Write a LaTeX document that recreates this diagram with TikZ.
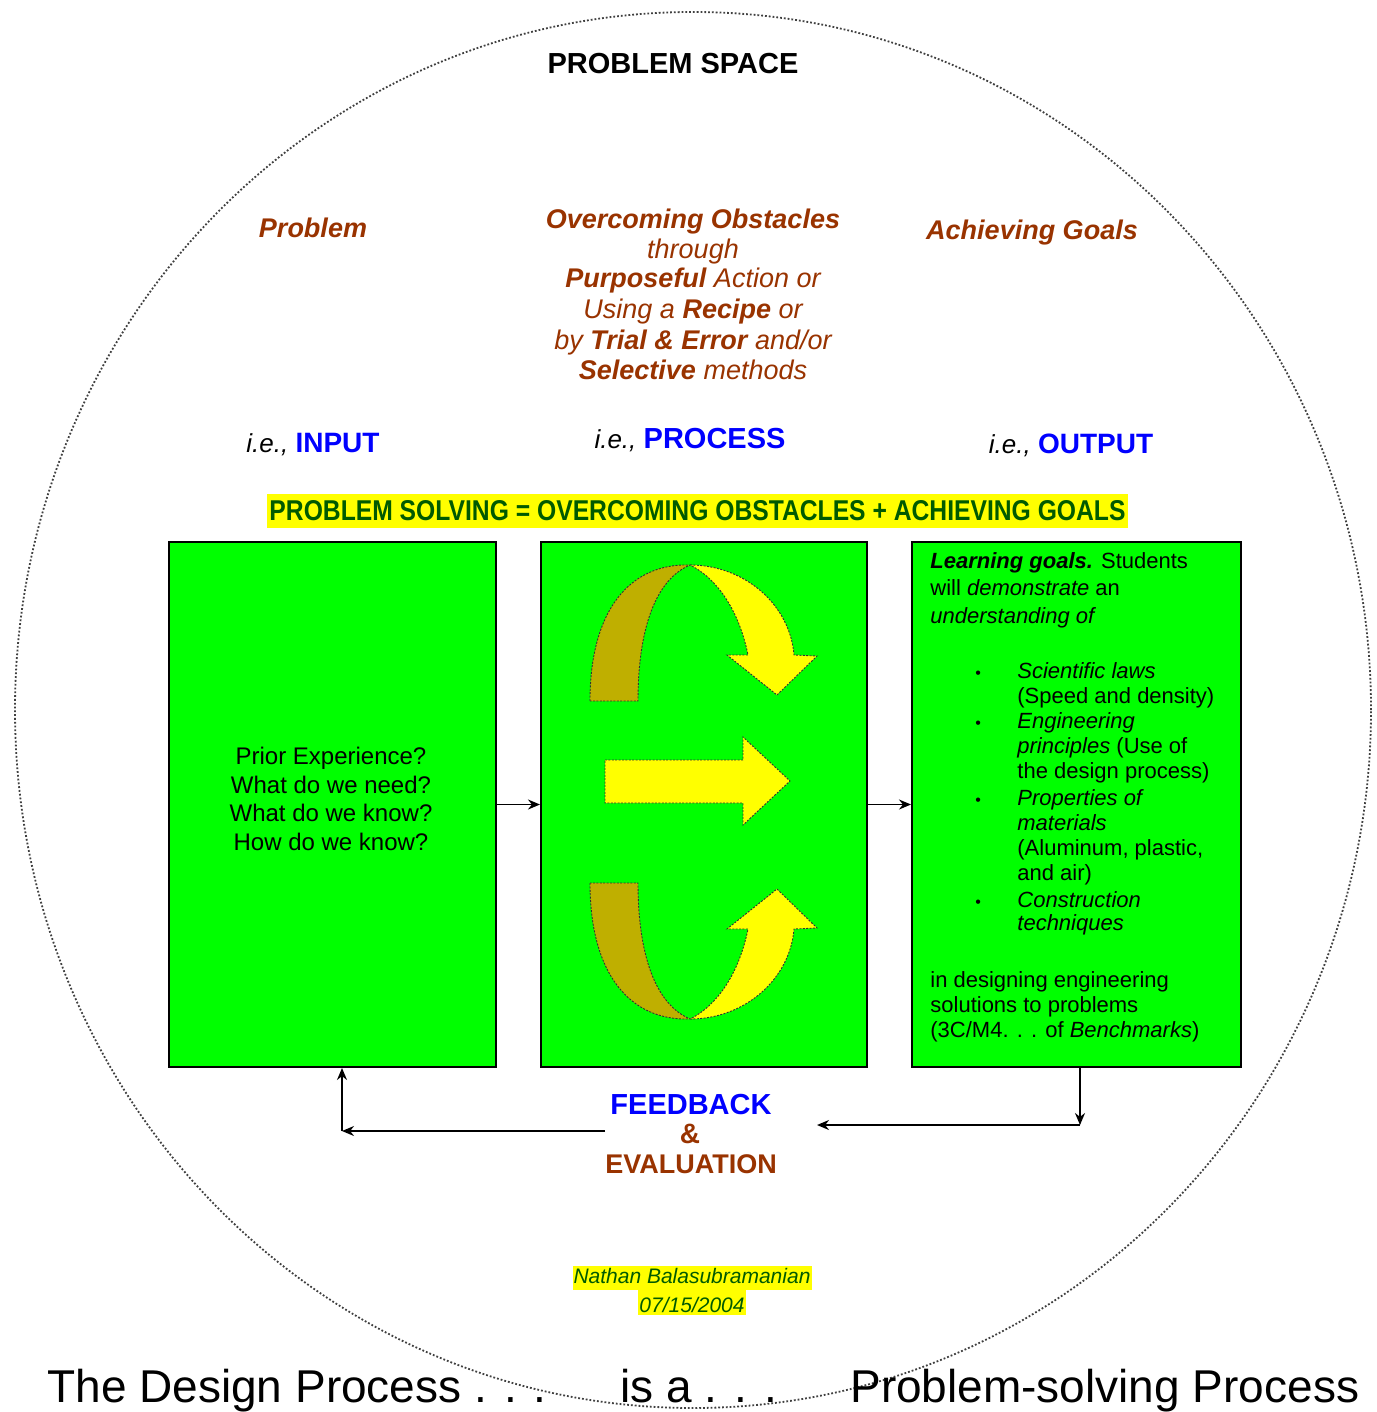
\documentclass[tikz,border=0pt]{standalone}
\usepackage{fontspec}
\usepackage{graphicx}
\setmainfont{Liberation Sans}
\usetikzlibrary{arrows.meta}
\definecolor{boxgreen}{RGB}{0,255,0}
\definecolor{ribolive}{RGB}{191,175,0}
\definecolor{ribyellow}{RGB}{255,255,0}
\definecolor{txtbrown}{RGB}{153,51,0}
\definecolor{txtblue}{RGB}{0,0,255}
\definecolor{txtgreen}{RGB}{0,90,0}
\newcommand{\fs}[2]{\fontsize{#1}{#2}\selectfont}
\begin{document}
\begin{tikzpicture}[x=0.5pt,y=-0.5pt,
  circ/.style={draw=black!75, line width=0.9pt, densely dotted},
  gbox/.style={draw=black, line width=1pt, fill=boxgreen, inner sep=0pt, anchor=north west, minimum height=262.5pt},
  ribback/.style={fill=ribolive, draw=black!80, line width=0.45pt, dash pattern=on 1pt off 0.7pt},
  ribfront/.style={fill=ribyellow, draw=black!80, line width=0.45pt, dash pattern=on 1pt off 0.7pt},
  arr/.style={draw=black, line width=0.8pt, -{Stealth[length=6pt,width=5pt]}},
  hd/.style={anchor=base, inner sep=0pt, text=txtbrown, font=\itshape\fs{13.5}{15}},
  ie/.style={anchor=base, inner sep=0pt, font=\itshape\fs{13}{15}},
  rt/.style={anchor=base west, inner sep=0pt, font=\fs{11}{13}},
  bul/.style={anchor=base west, inner sep=0pt, font=\fs{8}{10}},
  captext/.style={anchor=base west, inner sep=0pt, font=\fs{23}{26}},
  sig/.style={anchor=base, fill=ribyellow, text=txtgreen, font=\itshape\fs{10.5}{12}, inner xsep=0.5pt, inner ysep=1pt}
]
\useasboundingbox (0,0) rectangle (1376,1412);
\fill[white] (0,0) rectangle (1376,1412);
\draw[circ] (693,710) ellipse [x radius=339pt, y radius=349pt];

% title
\node[anchor=base, inner sep=0pt, font=\bfseries\fs{14.5}{16}] (title) at (673,74) {PROBLEM SPACE};

% headings
\node[hd, font=\bfseries\itshape\fs{13.5}{15}] (hprob) at (313,237) {Problem};
\node[hd, font=\bfseries\itshape\fs{13.5}{15}] (hgoal) at (1032,240) {Achieving Goals};
\node[hd, font=\bfseries\itshape\fs{13.5}{15}] (m1) at (693,228) {Overcoming Obstacles};
\node[hd] (m2) at (693,258) {through};
\node[hd] (m3) at (693,287) {{\bfseries Purposeful} Action or};
\node[hd] (m4) at (693,318) {Using a {\bfseries Recipe} or};
\node[hd] (m5) at (693,349) {by {\bfseries Trial \& Error} and/or};
\node[hd] (m6) at (693,379) {{\bfseries Selective} methods};

\node[ie] (iein) at (313,452) {i.e., {\upshape\bfseries\fs{14}{16}\color{txtblue}INPUT}};
\node[ie] (iepr) at (690,448) {i.e., {\upshape\bfseries\fs{14.5}{16}\color{txtblue}PROCESS}};
\node[ie] (ieout) at (1071,453) {i.e., {\upshape\bfseries\fs{14}{16}\color{txtblue}OUTPUT}};

% banner
\node[fill=ribyellow, minimum width=430.5pt, minimum height=17pt, inner sep=0pt] (banner) at (697.5,511)
  {\resizebox{428pt}{10pt}{\bfseries\color{txtgreen}PROBLEM SOLVING = OVERCOMING OBSTACLES + ACHIEVING GOALS}};

% boxes
\node[gbox, minimum width=163.5pt] (lbox) at (168,541) {};
\node[gbox, minimum width=163pt] (mbox) at (540,541) {};
\node[gbox, minimum width=164.5pt] (rbox) at (911,541) {};

\draw[arr] (lbox.east) -- (mbox.west);
\draw[arr] (mbox.east) -- (rbox.west);

% left box text
\node[align=center, inner sep=0pt, font=\fs{12}{14.2}] (ltext) at (331,799)
  {Prior Experience?\\What do we need?\\What do we know?\\How do we know?};

% process arrows: top
\path[ribback] (590,701) .. controls (590,610) and (630,563) .. (690,565)
  .. controls (655,580) and (638,630) .. (638,701) -- cycle;
\path[ribfront] (690,565) .. controls (745,565) and (790,605) .. (794,655)
  -- (817,656) -- (777,695) -- (727,655) -- (748,655)
  .. controls (740,615) and (720,580) .. (690,565) -- cycle;
% middle
\path[ribfront] (605,760) -- (743,760) -- (743,737) -- (790,781) -- (743,825) -- (743,803) -- (605,803) -- cycle;
% bottom
\path[ribback] (590,883) .. controls (590,974) and (630,1021) .. (690,1019)
  .. controls (655,1004) and (638,954) .. (638,883) -- cycle;
\path[ribfront] (690,1019) .. controls (745,1019) and (790,979) .. (794,929)
  -- (817,928) -- (777,889) -- (727,929) -- (748,929)
  .. controls (740,969) and (720,1004) .. (690,1019) -- cycle;

% right box text
\node[rt] (r1) at (930,568) {{\bfseries\itshape Learning goals.} Students};
\node[rt] (r2) at (930,595) {will {\itshape demonstrate} an};
\node[rt] (r3) at (930,623) {{\itshape understanding of}};
\node[bul] (b1) at (975,678) {\textbullet};
\node[rt] (r4) at (1017,678) {{\itshape Scientific laws}};
\node[rt] (r5) at (1017,703) {(Speed and density)};
\node[bul] (b2) at (975,728) {\textbullet};
\node[rt] (r6) at (1017,728) {{\itshape Engineering}};
\node[rt] (r7) at (1017,753) {{\itshape principles} (Use of};
\node[rt] (r8) at (1017,778) {the design process)};
\node[bul] (b3) at (975,805) {\textbullet};
\node[rt] (r9) at (1017,805) {{\itshape Properties of}};
\node[rt] (r10) at (1017,830) {{\itshape materials}};
\node[rt] (r11) at (1017,855) {(Aluminum, plastic,};
\node[rt] (r12) at (1017,880) {and air)};
\node[bul] (b4) at (975,907) {\textbullet};
\node[rt] (r13) at (1017,907) {{\itshape Construction}};
\node[rt] (r14) at (1017,930) {{\itshape techniques}};
\node[rt] (r15) at (930,987) {in designing engineering};
\node[rt] (r16) at (930,1012) {solutions to problems};
\node[rt] (r17) at (930,1037) {(3C/M4. . . of {\itshape Benchmarks})};

% feedback
\node[anchor=base, inner sep=0pt, text=txtblue, font=\bfseries\fs{14.5}{16}] (fb1) at (691,1114) {FEEDBACK};
\node[anchor=base, inner sep=0pt, text=txtbrown, font=\bfseries\fs{14}{16}] (fb2) at (690,1143) {\&};
\node[anchor=base, inner sep=0pt, text=txtbrown, font=\bfseries\fs{13.5}{16}] (fb3) at (691,1173) {EVALUATION};

\coordinate (cR) at (1080,1125);
\coordinate (eR) at (817,1125);
\coordinate (sL) at (605,1131);
\coordinate (cL) at (342,1131);
\draw[arr] (cR |- rbox.south) -- (cR);
\draw[arr] (cR) -- (eR);
\draw[arr] (sL) -- (cL);
\draw[arr] (cL) -- (cL |- lbox.south);

% signature
\node[sig, text height=7.5pt, text depth=2.5pt] (sig1) at (692,1283) {Nathan Balasubramanian};
\node[sig, text height=10pt, text depth=0.5pt] (sig2) at (692,1312) {07/15/2004};

% caption
\node[captext] (cap1) at (47,1402) {The Design Process . . .};
\node[captext] (cap2) at (620,1402) {is a . . .};
\node[captext] (cap3) at (850,1402) {Problem-solving Process};
\end{tikzpicture}
\end{document}
